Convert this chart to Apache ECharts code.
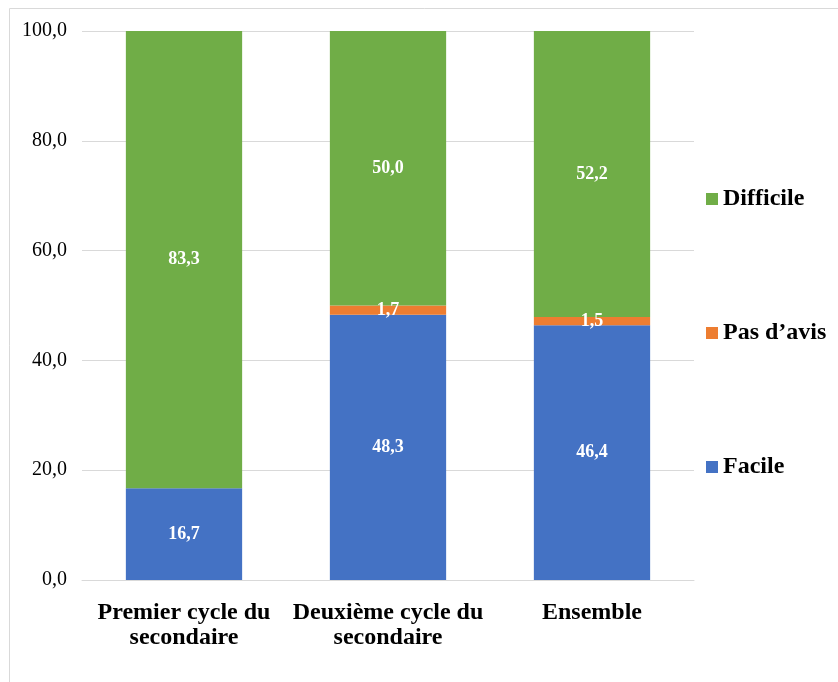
<!DOCTYPE html>
<html>
<head>
<meta charset="utf-8">
<script src="https://cdn.jsdelivr.net/npm/echarts@6/dist/echarts.min.js"></script>
<style>
  html, body { margin: 0; padding: 0; background: #fff; }
  #chart { width: 838px; height: 682px; }
</style>
</head>
<body>
<div id="chart"></div>
<script>
// data
var categories = ['Premier cycle du\nsecondaire', 'Deuxième cycle du\nsecondaire', 'Ensemble'];
var facile = [16.7, 48.3, 46.4];
var pasAvis = [0, 1.7, 1.5];
var difficile = [83.3, 50.0, 52.2];
var yTicks = [0, 20, 40, 60, 80, 100];

var serif = '"Liberation Serif", "Times New Roman", serif';
var chart = echarts.init(document.getElementById('chart'));

function fmt(v) {
    return v.toFixed(1).replace('.', ',');
}

function barSeries(name, values, color) {
    return {
        name: name,
        type: 'bar',
        stack: 'total',
        barWidth: '57%',
        data: values,
        itemStyle: { color: color },
        label: {
            show: true,
            position: 'inside',
            color: '#fff',
            fontFamily: serif,
            fontWeight: 'bold',
            fontSize: 18,
            formatter: function (p) {
                return p.value > 0 ? fmt(p.value) : '';
            }
        }
    };
}

var option = {
    animation: false,
    textStyle: { fontFamily: serif },
    graphic: [{
        type: 'rect',
        shape: { x: 9.5, y: 8.5, width: 840, height: 690 },
        style: { fill: 'none', stroke: '#d9d9d9', lineWidth: 1 }
    }],
    legend: {
        orient: 'vertical',
        left: 701,
        top: 182,
        itemGap: 110,
        itemWidth: 12,
        itemHeight: 12,
        icon: 'rect',
        data: ['Difficile', "Pas d\u2019avis", 'Facile'],
        textStyle: { fontFamily: serif, fontWeight: 'bold', fontSize: 24, color: '#000' }
    },
    grid: { left: 82, right: 144, top: 31, bottom: 102, containLabel: false },
    xAxis: {
        type: 'category',
        data: categories,
        axisTick: { show: false },
        axisLine: { lineStyle: { color: '#d9d9d9' } },
        axisLabel: {
            color: '#000',
            fontFamily: serif,
            fontWeight: 'bold',
            fontSize: 24,
            lineHeight: 25,
            margin: 20,
            interval: 0
        }
    },
    yAxis: {
        type: 'value',
        min: yTicks[0],
        max: yTicks[yTicks.length - 1],
        interval: 20,
        axisLine: { show: false },
        axisTick: { show: false },
        splitLine: { lineStyle: { color: '#d9d9d9' } },
        axisLabel: {
            color: '#000',
            fontFamily: serif,
            fontSize: 20,
            margin: 15,
            formatter: function (v) { return fmt(v); }
        }
    },
    series: [
        barSeries('Facile', facile, '#4472c4'),
        barSeries("Pas d\u2019avis", pasAvis, '#ed7d31'),
        barSeries('Difficile', difficile, '#70ad47')
    ]
};
chart.setOption(option);
</script>
</body>
</html>
